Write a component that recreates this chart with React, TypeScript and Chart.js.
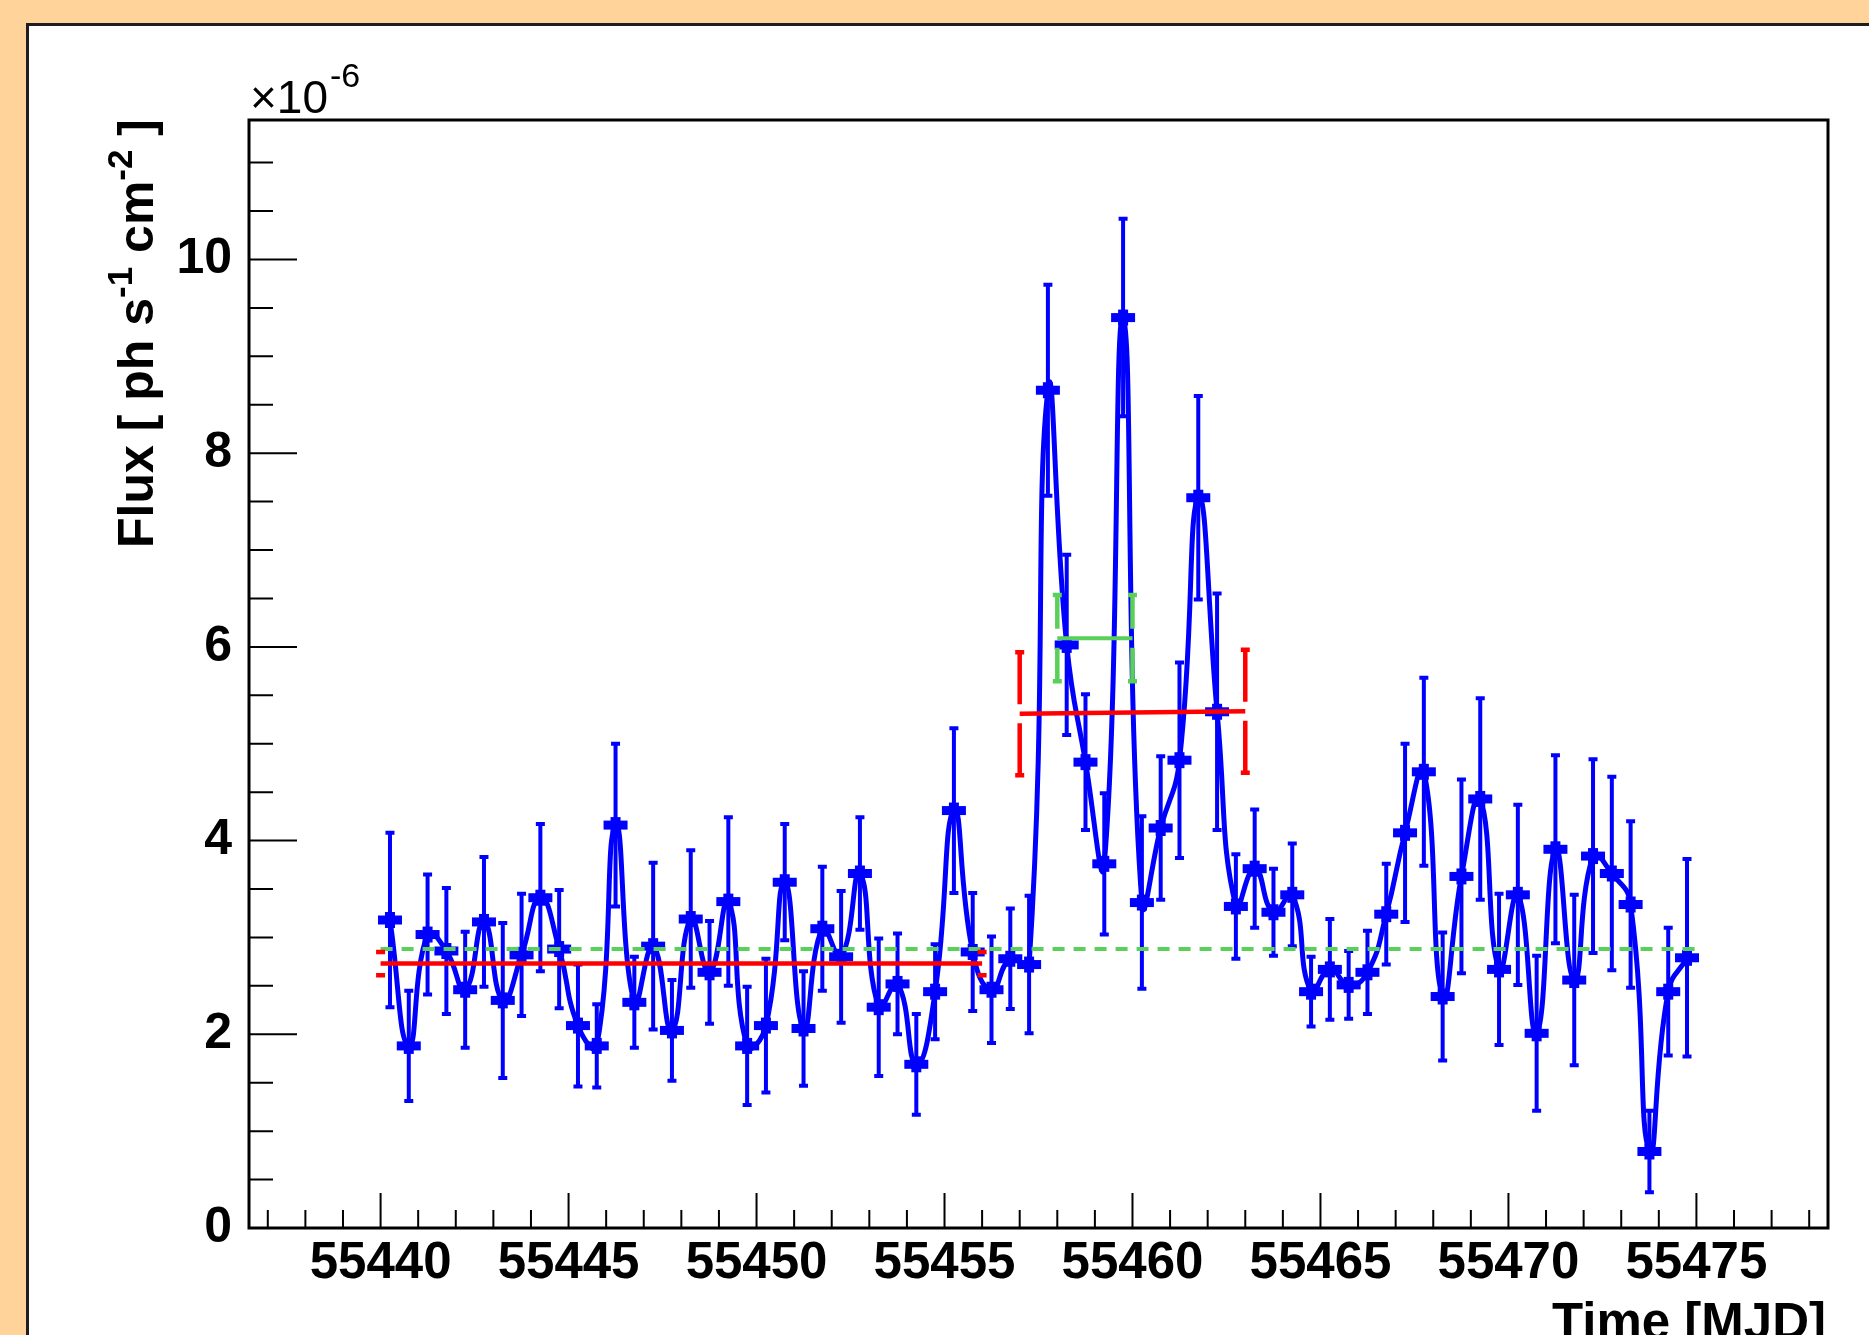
import React, { useEffect, useRef } from "react";
import { Chart, registerables } from "chart.js";

Chart.register(...registerables);

// ---- data (flux in units of 1e-6 ph s^-1 cm^-2) ----
const times = [
  55440.25, 55440.75, 55441.25, 55441.75, 55442.25, 55442.75, 55443.25, 55443.75, 55444.25, 55444.75,
  55445.25, 55445.75, 55446.25, 55446.75, 55447.25, 55447.75, 55448.25, 55448.75, 55449.25, 55449.75,
  55450.25, 55450.75, 55451.25, 55451.75, 55452.25, 55452.75, 55453.25, 55453.75, 55454.25, 55454.75,
  55455.25, 55455.75, 55456.25, 55456.75, 55457.25, 55457.75, 55458.25, 55458.75, 55459.25, 55459.75,
  55460.25, 55460.75, 55461.25, 55461.75, 55462.25, 55462.75, 55463.25, 55463.75, 55464.25, 55464.75,
  55465.25, 55465.75, 55466.25, 55466.75, 55467.25, 55467.75, 55468.25, 55468.75, 55469.25, 55469.75,
  55470.25, 55470.75, 55471.25, 55471.75, 55472.25, 55472.75, 55473.25, 55473.75, 55474.25, 55474.75,
];
const flux = [
  3.18, 1.88, 3.03, 2.86, 2.46, 3.16, 2.35, 2.82, 3.41, 2.88,
  2.09, 1.88, 4.16, 2.33, 2.91, 2.04, 3.19, 2.64, 3.37, 1.88,
  2.09, 3.57, 2.06, 3.09, 2.8, 3.66, 2.28, 2.52, 1.69, 2.44,
  4.31, 2.85, 2.46, 2.78, 2.72, 8.65, 6.02, 4.81, 3.76, 9.4,
  3.36, 4.13, 4.83, 7.54, 5.33, 3.32, 3.71, 3.26, 3.44, 2.44,
  2.67, 2.51, 2.64, 3.24, 4.08, 4.71, 2.39, 3.63, 4.43, 2.67,
  3.44, 2.01, 3.91, 2.56, 3.84, 3.66, 3.34, 0.79, 2.44, 2.79,
];
const fluxErr = [
  0.9, 0.57, 0.62, 0.65, 0.6, 0.67, 0.8, 0.63, 0.76, 0.61,
  0.63, 0.43, 0.84, 0.47, 0.86, 0.52, 0.71, 0.53, 0.87, 0.61,
  0.69, 0.6, 0.59, 0.64, 0.68, 0.58, 0.71, 0.52, 0.52, 0.49,
  0.85, 0.61, 0.55, 0.52, 0.71, 1.09, 0.93, 0.7, 0.73, 1.02,
  0.89, 0.74, 1.01, 1.05, 1.22, 0.54, 0.61, 0.45, 0.53, 0.36,
  0.52, 0.35, 0.43, 0.52, 0.92, 0.97, 0.66, 1.0, 1.04, 0.78,
  0.93, 0.8, 0.97, 0.88, 1.0, 1.0, 0.86, 0.42, 0.66, 1.02,
];

// red fitted segments: [x start, x end], [y start, y end], error
const redSegX = [[55440, 55456], [55457, 55463]];
const redSegY = [[2.73, 2.73], [5.31, 5.335]];
const redSegErr = [0.12, 0.635];
// green flare segment
const greenSegX = [55458, 55460];
const greenSegY = [6.09, 6.09];
const greenSegErr = 0.445;
// green dashed average line
const greenAvgX = [55440, 55475];
const greenAvgY = [2.88, 2.88];

const xTicks = [55440, 55445, 55450, 55455, 55460, 55465, 55470, 55475];
const yTicks = [0, 2, 4, 6, 8, 10];
const xRange = [55436.5, 55478.5];
const yRange = [0, 11.44];

const FONT = '"Liberation Sans", Arial, Helvetica, sans-serif';
const BLUE = "#0000ff";
const RED = "#ff0000";
const GREEN = "#5ad05a";

const W = 1869;
const H = 1335;

const decorPlugin = {
  id: "decor",
  beforeDraw(chart: any) {
    const ctx = chart.ctx;
    ctx.save();
    ctx.fillStyle = "#ffd399";
    ctx.fillRect(0, 0, chart.width, chart.height);
    ctx.fillStyle = "#ffffff";
    ctx.fillRect(26, 23, chart.width, chart.height);
    ctx.fillStyle = "#1e1e1e";
    ctx.fillRect(26, 23, chart.width, 3);
    ctx.fillRect(26, 23, 3, chart.height);
    ctx.restore();
  },
  beforeDatasetsDraw(chart: any) {
    const ctx = chart.ctx;
    const xs = chart.scales.x;
    const ys = chart.scales.y;
    const a = chart.chartArea;
    ctx.save();
    ctx.strokeStyle = "#000";
    ctx.lineWidth = 2;
    ctx.beginPath();
    // x ticks (inward)
    for (let v = Math.ceil(xRange[0]); v <= xRange[1]; v += 1) {
      const px = xs.getPixelForValue(v);
      const len = v % 5 === 0 ? 35 : 18;
      ctx.moveTo(px, a.bottom);
      ctx.lineTo(px, a.bottom - len);
    }
    // y ticks (inward)
    for (let k = 1; k * 0.5 <= yRange[1]; k += 1) {
      const v = k * 0.5;
      const py = ys.getPixelForValue(v);
      const len = k % 4 === 0 ? 48 : 24;
      ctx.moveTo(a.left, py);
      ctx.lineTo(a.left + len, py);
    }
    ctx.stroke();
    // frame
    ctx.lineWidth = 3;
    ctx.strokeRect(a.left, a.top, a.right - a.left, a.bottom - a.top);
    ctx.restore();
  },
  afterDatasetsDraw(chart: any) {
    const ctx = chart.ctx;
    const xs = chart.scales.x;
    const ys = chart.scales.y;
    const a = chart.chartArea;
    ctx.save();
    ctx.beginPath();
    ctx.rect(a.left, a.top, a.right - a.left, a.bottom - a.top);
    ctx.clip();

    // blue error bars + markers
    ctx.strokeStyle = BLUE;
    ctx.fillStyle = BLUE;
    ctx.lineWidth = 4;
    ctx.lineCap = "butt";
    for (let i = 0; i < times.length; i++) {
      const px = xs.getPixelForValue(times[i]);
      const py = ys.getPixelForValue(flux[i]);
      const pt = ys.getPixelForValue(flux[i] + fluxErr[i]);
      const pb = ys.getPixelForValue(flux[i] - fluxErr[i]);
      ctx.beginPath();
      ctx.moveTo(px, pt);
      ctx.lineTo(px, pb);
      ctx.moveTo(px - 4.5, pt);
      ctx.lineTo(px + 4.5, pt);
      ctx.moveTo(px - 4.5, pb);
      ctx.lineTo(px + 4.5, pb);
      ctx.stroke();
      ctx.fillRect(px - 12, py - 4.5, 24, 9);
      ctx.fillRect(px - 5, py - 8, 10, 16);
    }

    const gapBar = (x: number, y: number, err: number, color: string) => {
      const px = xs.getPixelForValue(x);
      const py = ys.getPixelForValue(y);
      const pt = ys.getPixelForValue(y + err);
      const pb = ys.getPixelForValue(y - err);
      const gap = 9.5;
      ctx.strokeStyle = color;
      ctx.lineWidth = 4.5;
      ctx.beginPath();
      if (py - gap > pt) {
        ctx.moveTo(px, pt);
        ctx.lineTo(px, py - gap);
      }
      if (py + gap < pb) {
        ctx.moveTo(px, py + gap);
        ctx.lineTo(px, pb);
      }
      ctx.moveTo(px - 4.5, pt);
      ctx.lineTo(px + 4.5, pt);
      ctx.moveTo(px - 4.5, pb);
      ctx.lineTo(px + 4.5, pb);
      ctx.stroke();
    };

    // green dashed average
    ctx.strokeStyle = GREEN;
    ctx.lineWidth = 4;
    ctx.setLineDash([12, 9]);
    ctx.beginPath();
    ctx.moveTo(xs.getPixelForValue(greenAvgX[0]), ys.getPixelForValue(greenAvgY[0]));
    ctx.lineTo(xs.getPixelForValue(greenAvgX[1]), ys.getPixelForValue(greenAvgY[1]));
    ctx.stroke();
    ctx.setLineDash([]);

    // red segments
    for (let s = 0; s < redSegX.length; s++) {
      ctx.strokeStyle = RED;
      ctx.lineWidth = 4.5;
      ctx.beginPath();
      ctx.moveTo(xs.getPixelForValue(redSegX[s][0]), ys.getPixelForValue(redSegY[s][0]));
      ctx.lineTo(xs.getPixelForValue(redSegX[s][1]), ys.getPixelForValue(redSegY[s][1]));
      ctx.stroke();
      gapBar(redSegX[s][0], redSegY[s][0], redSegErr[s], RED);
      gapBar(redSegX[s][1], redSegY[s][1], redSegErr[s], RED);
    }

    // green segment
    ctx.strokeStyle = GREEN;
    ctx.lineWidth = 4;
    ctx.beginPath();
    ctx.moveTo(xs.getPixelForValue(greenSegX[0]), ys.getPixelForValue(greenSegY[0]));
    ctx.lineTo(xs.getPixelForValue(greenSegX[1]), ys.getPixelForValue(greenSegY[1]));
    ctx.stroke();
    gapBar(greenSegX[0], greenSegY[0], greenSegErr, GREEN);
    gapBar(greenSegX[1], greenSegY[1], greenSegErr, GREEN);

    ctx.restore();
  },
  afterDraw(chart: any) {
    const ctx = chart.ctx;
    const a = chart.chartArea;
    ctx.save();
    ctx.fillStyle = "#000";
    ctx.textBaseline = "alphabetic";

    // exponent label
    ctx.font = `46px ${FONT}`;
    ctx.textAlign = "left";
    ctx.fillText("\u00d710", a.left + 1, 113);
    const wx = ctx.measureText("\u00d710").width;
    ctx.font = `34px ${FONT}`;
    ctx.fillText("-6", a.left + 1 + wx + 2, 87);

    // x title
    ctx.font = `bold 51px ${FONT}`;
    ctx.textAlign = "right";
    ctx.fillText("Time [MJD]", a.right - 2, 1339);

    // y title (rotated, right-aligned at top of frame)
    const big = `bold 50px ${FONT}`;
    const small = `bold 35px ${FONT}`;
    const parts: [string, boolean][] = [
      ["Flux [ ph s", false],
      ["-1", true],
      [" cm", false],
      ["-2", true],
      [" ]", false],
    ];
    let total = 0;
    const widths: number[] = [];
    for (const [t, sup] of parts) {
      ctx.font = sup ? small : big;
      const w = ctx.measureText(t).width;
      widths.push(w);
      total += w;
    }
    ctx.translate(153, a.top - 1 + total);
    ctx.rotate(-Math.PI / 2);
    ctx.textAlign = "left";
    let cx = 0;
    parts.forEach(([t, sup], i) => {
      ctx.font = sup ? small : big;
      ctx.fillText(t, cx, sup ? -21 : 0);
      cx += widths[i];
    });
    ctx.restore();
  },
};

export default function App() {
  const ref = useRef<HTMLCanvasElement | null>(null);

  useEffect(() => {
    if (!ref.current) return;
    const chart = new Chart(ref.current, {
      type: "line",
      data: {
        datasets: [
          {
            data: times.map((t, i) => ({ x: t, y: flux[i] })),
            borderColor: BLUE,
            borderWidth: 5,
            pointRadius: 0,
            tension: 0.5,
            fill: false,
          },
        ],
      },
      options: {
        responsive: false,
        maintainAspectRatio: false,
        animation: false,
        devicePixelRatio: 1,
        layout: { padding: { top: 120, right: 41, left: 0, bottom: 0 } },
        plugins: {
          legend: { display: false },
          tooltip: { enabled: false },
          title: { display: false },
        },
        scales: {
          x: {
            type: "linear",
            min: xRange[0],
            max: xRange[1],
            grid: { display: false },
            border: { display: false },
            afterFit: (s: any) => {
              s.height = 107;
            },
            afterBuildTicks: (s: any) => {
              s.ticks = xTicks.map((v) => ({ value: v }));
            },
            ticks: {
              autoSkip: false,
              maxRotation: 0,
              minRotation: 0,
              padding: -3,
              color: "#000",
              font: { family: FONT, size: 51, weight: "bold" },
              callback: (v: any) => String(v),
            },
          },
          y: {
            type: "linear",
            min: yRange[0],
            max: yRange[1],
            grid: { display: false },
            border: { display: false },
            afterFit: (s: any) => {
              s.width = 249;
            },
            afterBuildTicks: (s: any) => {
              s.ticks = yTicks.map((v) => ({ value: v }));
            },
            ticks: {
              padding: 9,
              color: "#000",
              font: { family: FONT, size: 50, weight: "bold" },
              callback: (v: any) => String(v),
            },
          },
        },
      },
      plugins: [decorPlugin],
    } as any);
    return () => chart.destroy();
  }, []);

  return (
    <div style={{ position: "fixed", left: 0, top: 0, width: W, height: H, overflow: "hidden" }}>
      <canvas ref={ref} width={W} height={H} style={{ display: "block", width: W, height: H }} />
    </div>
  );
}
